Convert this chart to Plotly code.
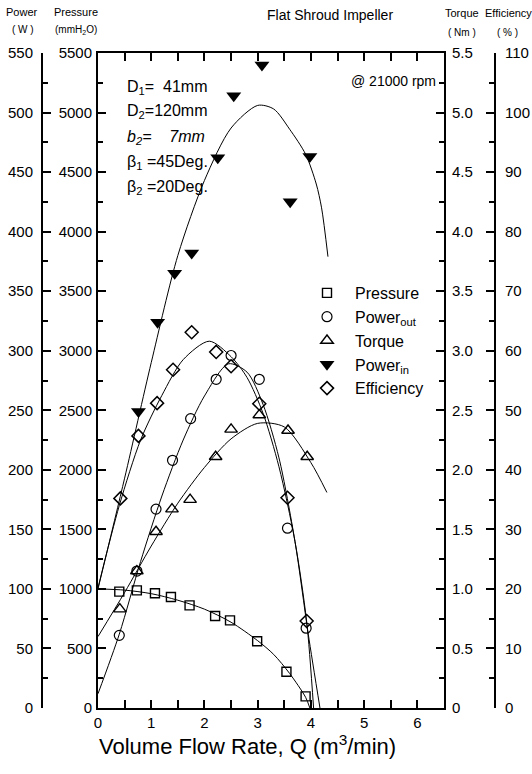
import plotly.graph_objects as go

# ---------------- data ----------------
q_pressure = [0.40, 0.73, 1.07, 1.37, 1.72, 2.20, 2.48, 2.99, 3.54, 3.90]
pressure = [977, 988, 963, 932, 862, 773, 736, 560, 305, 98]

q_powerout = [0.40, 0.73, 1.09, 1.40, 1.74, 2.22, 2.50, 3.03, 3.56, 3.91]
power_out = [61, 115, 167, 208, 243, 276, 296, 276, 151, 67]

q_torque = [0.41, 0.73, 1.09, 1.39, 1.73, 2.21, 2.50, 3.03, 3.57, 3.93]
torque = [0.83, 1.15, 1.48, 1.67, 1.75, 2.11, 2.34, 2.46, 2.33, 2.11]

q_powerin = [0.76, 1.12, 1.44, 1.76, 2.25, 2.55, 3.08, 3.61, 3.98]
power_in = [249, 324, 365, 382, 462, 514, 540, 425, 463]

q_eff = [0.42, 0.76, 1.11, 1.41, 1.76, 2.22, 2.50, 3.03, 3.56, 3.92]
efficiency = [35.2, 45.7, 51.2, 56.8, 63.1, 59.8, 57.4, 51.1, 35.3, 14.6]

# fitted curves
fit_q_pressure = [0, 0.5, 1.0, 1.5, 2.0, 2.5, 3.0, 3.3, 3.6, 3.9, 3.98]
fit_pressure = [1000, 990, 960, 905, 830, 720, 565, 450, 290, 90, 0]

fit_q_powerout = [0, 0.4, 0.8, 1.2, 1.6, 2.0, 2.45, 2.8, 3.1, 3.4, 3.7, 3.95, 4.17]
fit_powerout = [12, 62, 123, 178, 225, 262, 289, 282, 255, 210, 140, 62, 0]

fit_q_torque = [0, 0.5, 1.0, 1.5, 2.0, 2.5, 3.0, 3.5, 4.0, 4.3]
fit_torque = [0.6, 0.97, 1.36, 1.72, 2.02, 2.26, 2.39, 2.36, 2.06, 1.81]

fit_q_powerin = [0, 0.5, 1.0, 1.5, 2.0, 2.5, 3.0, 3.3, 3.6, 3.9, 4.1, 4.2, 4.32]
fit_powerin = [100, 193, 290, 380, 443, 487, 506, 503, 486, 465, 440, 420, 379]

fit_q_eff = [0, 0.4, 0.8, 1.2, 1.6, 2.09, 2.5, 2.8, 3.1, 3.4, 3.7, 3.92, 4.05]
fit_eff = [20.2, 34, 45, 52.5, 58.5, 61.6, 59, 55.5, 49.5, 40.5, 28, 14.5, 0]

x_ticks = [0, 1, 2, 3, 4, 5, 6]
pressure_ticks = list(range(0, 5501, 500))
power_ticks = list(range(0, 551, 50))
torque_ticks = [i * 0.5 for i in range(12)]
torque_ticktext = ["0"] + ["%.1f" % v for v in torque_ticks[1:]]
eff_ticks = list(range(0, 111, 10))

params = ["D<sub>1</sub>=  41mm", "D<sub>2</sub>=120mm", "<i>b<sub>2</sub>=    7mm</i>",
          "β<sub>1</sub> =45Deg.", "β<sub>2</sub> =20Deg."]

# ---------------- layout helpers ----------------
W, H = 532, 774
ML, MR, MT, MB = 42, 37, 53, 66
PW = W - ML - MR
PH = H - MT - MB


def pxx(px):
    return (px - ML) / PW


def pxy(py):
    return (H - MB - py) / PH


FONT = "Liberation Sans, Arial, sans-serif"
BLACK = "black"

fig = go.Figure()

line_style = dict(color=BLACK, width=1, shape="spline", smoothing=0.8)

# fit curves
fig.add_trace(go.Scatter(x=fit_q_pressure, y=fit_pressure, mode="lines", line=line_style,
                         yaxis="y", showlegend=False, hoverinfo="skip"))
fig.add_trace(go.Scatter(x=fit_q_powerout, y=fit_powerout, mode="lines", line=line_style,
                         yaxis="y2", showlegend=False, hoverinfo="skip"))
fig.add_trace(go.Scatter(x=fit_q_torque, y=fit_torque, mode="lines", line=line_style,
                         yaxis="y3", showlegend=False, hoverinfo="skip"))
fig.add_trace(go.Scatter(x=fit_q_powerin, y=fit_powerin, mode="lines", line=line_style,
                         yaxis="y2", showlegend=False, hoverinfo="skip"))
fig.add_trace(go.Scatter(x=fit_q_eff, y=fit_eff, mode="lines", line=line_style,
                         yaxis="y4", showlegend=False, hoverinfo="skip"))

# markers
fig.add_trace(go.Scatter(x=q_pressure, y=pressure, mode="markers", name="Pressure", yaxis="y",
                         marker=dict(symbol="square-open", size=9, color=BLACK, line=dict(width=1.4, color=BLACK))))
fig.add_trace(go.Scatter(x=q_powerout, y=power_out, mode="markers", name="Power<sub>out</sub>", yaxis="y2",
                         marker=dict(symbol="circle-open", size=10, color=BLACK, line=dict(width=1.2, color=BLACK))))
fig.add_trace(go.Scatter(x=q_torque, y=torque, mode="markers", name="Torque", yaxis="y3",
                         marker=dict(symbol="triangle-up-open", size=11, color=BLACK, line=dict(width=1.4, color=BLACK))))
fig.add_trace(go.Scatter(x=q_powerin, y=power_in, mode="markers", name="Power<sub>in</sub>", yaxis="y2",
                         marker=dict(symbol="triangle-down", size=13, color=BLACK, line=dict(width=0, color=BLACK))))
fig.add_trace(go.Scatter(x=q_eff, y=efficiency, mode="markers", name="Efficiency", yaxis="y4",
                         marker=dict(symbol="diamond-open", size=10, color=BLACK, line=dict(width=1.5, color=BLACK))))

tickfont = dict(family=FONT, size=15, color=BLACK)
axis_common = dict(showline=True, linecolor=BLACK, linewidth=2, ticks="inside", ticklen=8,
                   tickwidth=2, tickcolor=BLACK, showgrid=False, zeroline=False, tickfont=tickfont,
                   automargin=False)

fig.update_layout(
    width=W, height=H,
    margin=dict(l=ML, r=MR, t=MT, b=MB, autoexpand=False),
    paper_bgcolor="white", plot_bgcolor="white",
    font=dict(family=FONT, color=BLACK),
    xaxis=dict(domain=[pxx(98), pxx(444)], range=[0, 6.5], tickvals=x_ticks,
               mirror="allticks", minor=dict(dtick=0.5, ticklen=5, ticks="inside", tickwidth=2, tickcolor=BLACK),
               **axis_common),
    yaxis=dict(range=[0, 5500], tickvals=pressure_ticks, side="left", anchor="x", ticklabelstandoff=1,
               minor=dict(dtick=250, ticklen=5, ticks="inside", tickwidth=2, tickcolor=BLACK), **axis_common),
    yaxis2=dict(range=[0, 550], tickvals=power_ticks, side="left", anchor="free", position=0,
                overlaying="y", ticklabelstandoff=5,
                minor=dict(dtick=25, ticklen=5, ticks="inside", tickwidth=2, tickcolor=BLACK),
                **axis_common),
    yaxis3=dict(range=[0, 5.5], tickvals=torque_ticks, ticktext=torque_ticktext, side="right", anchor="x",
                overlaying="y", ticklabelstandoff=3,
                minor=dict(dtick=0.25, ticklen=5, ticks="inside", tickwidth=2, tickcolor=BLACK),
                **axis_common),
    yaxis4=dict(range=[0, 110], tickvals=eff_ticks, side="right", anchor="free", position=1,
                overlaying="y", ticklabelstandoff=6,
                minor=dict(dtick=5, ticklen=5, ticks="inside", tickwidth=2, tickcolor=BLACK),
                **axis_common),
    legend=dict(x=pxx(299), y=pxy(276), xanchor="left", yanchor="top", bgcolor="rgba(0,0,0,0)",
                font=dict(family=FONT, size=16, color=BLACK), itemwidth=46, tracegroupgap=0),
    showlegend=True,
)

ann = []


def add_text(text, px, py, size, xanchor="center"):
    ann.append(dict(text=text, x=pxx(px), y=pxy(py), xref="paper", yref="paper", showarrow=False,
                    xanchor=xanchor, yanchor="middle", font=dict(family=FONT, size=size, color=BLACK)))


add_text("Power", 22, 12, 11)
add_text("( W )", 23, 30, 10)
add_text("Pressure", 76, 12, 11)
add_text("(mmH<sub>2</sub>O)", 76, 30, 10)
add_text("Torque", 462, 13, 11)
add_text("( Nm )", 462, 33, 10)
add_text("Efficiency", 509, 13, 11)
add_text("( % )", 508, 33, 10)
add_text("Flat Shroud Impeller", 330, 15, 14)
add_text("@ 21000 rpm", 393, 81, 14)
add_text("Volume Flow Rate, Q (m<sup>3</sup>/min)", 247, 745, 22)

for i, p in enumerate(params):
    add_text(p, 125, 87 + 25 * i, 16, xanchor="left")

fig.update_layout(annotations=ann)

fig.write_html("out.html", config={"displayModeBar": False})
